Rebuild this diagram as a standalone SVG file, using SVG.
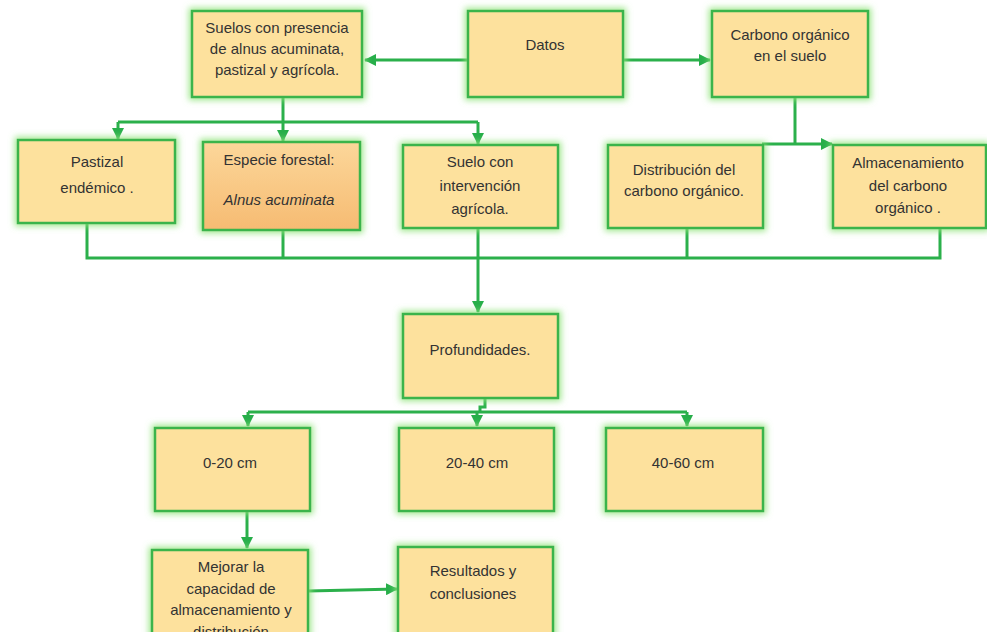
<svg xmlns="http://www.w3.org/2000/svg" width="987" height="632" viewBox="0 0 987 632">
<defs>
<filter id="glow" x="-20%" y="-20%" width="140%" height="140%">
<feMorphology in="SourceAlpha" operator="dilate" radius="2" result="d"/>
<feGaussianBlur in="d" stdDeviation="3" result="b"/>
<feFlood flood-color="#8fe47a" flood-opacity="0.85"/>
<feComposite in2="b" operator="in" result="g"/>
<feMerge><feMergeNode in="g"/><feMergeNode in="SourceGraphic"/></feMerge>
</filter>
<linearGradient id="orange" x1="0" y1="0" x2="0" y2="1">
<stop offset="0" stop-color="#fcd79a"/>
<stop offset="1" stop-color="#f6bb72"/>
</linearGradient>
<marker id="arr" markerUnits="userSpaceOnUse" markerWidth="12" markerHeight="12" viewBox="0 0 12 12" refX="11" refY="6" orient="auto">
<path d="M0,0 L12,6 L0,12 Z" fill="#27ae4a"/>
</marker>
<style>
.box{fill:#fde19d;stroke:#3bb44b;stroke-width:2.5;filter:url(#glow)}
.box2{fill:url(#orange);stroke:#3bb44b;stroke-width:2.5;filter:url(#glow)}
text{font-family:"Liberation Sans",Arial,sans-serif;font-size:15px;fill:#333;text-anchor:middle}
.it{font-style:italic}
.c{fill:none;stroke:#2bb04b;stroke-width:3}
</style>
</defs>
<rect width="987" height="632" fill="#fff"/>

<g id="connectors">
<path class="c" d="M468,60 H365" marker-end="url(#arr)"/>
<path class="c" d="M623,60 H710" marker-end="url(#arr)"/>
<path class="c" d="M283,97 V122"/>
<path class="c" d="M118,122 H478"/>
<path class="c" d="M118,122 V139" marker-end="url(#arr)"/>
<path class="c" d="M283,122 V141" marker-end="url(#arr)"/>
<path class="c" d="M478,122 V144" marker-end="url(#arr)"/>
<path class="c" d="M795,97 V144"/>
<path class="c" d="M762,144 H832" marker-end="url(#arr)"/>
<path class="c" d="M87,223 V258 H940 V228"/>
<path class="c" d="M283,230 V258"/>
<path class="c" d="M687,228 V258"/>
<path class="c" d="M478,228 V312" marker-end="url(#arr)"/>
<path class="c" d="M485,398 V407 H480 V412"/>
<path class="c" d="M248,412 H687"/>
<path class="c" d="M248,412 V426" marker-end="url(#arr)"/>
<path class="c" d="M477,412 V426" marker-end="url(#arr)"/>
<path class="c" d="M687,412 V426" marker-end="url(#arr)"/>
<path class="c" d="M247,511 V548" marker-end="url(#arr)"/>
<path class="c" d="M308,591 L397,589" marker-end="url(#arr)"/>
</g>

<g id="suelos"><rect class="box" x="192" y="11" width="170" height="86"/>
<text x="277" y="33">Suelos con presencia</text><text x="277" y="54">de alnus acuminata,</text><text x="277" y="75">pastizal y agrícola.</text></g>
<g id="datos"><rect class="box" x="468" y="11" width="155" height="86"/>
<text x="545" y="50">Datos</text></g>
<g id="carbono"><rect class="box" x="712" y="11" width="156" height="86"/>
<text x="790" y="40">Carbono orgánico</text><text x="790" y="61">en el suelo</text></g>

<g id="pastizal"><rect class="box" x="18" y="140" width="157" height="83"/>
<text x="97" y="167">Pastizal</text><text x="97" y="193">endémico .</text></g>
<g id="especie"><rect class="box2" x="203" y="142" width="157" height="88"/>
<text x="279" y="165">Especie forestal:</text><text class="it" x="279" y="205">Alnus acuminata</text></g>
<g id="suelo-agricola"><rect class="box" x="403" y="145" width="155" height="83"/>
<text x="480" y="167">Suelo con</text><text x="480" y="191">intervención</text><text x="480" y="214">agrícola.</text></g>
<g id="distribucion"><rect class="box" x="608" y="145" width="155" height="83"/>
<text x="684" y="175">Distribución del</text><text x="684" y="196">carbono orgánico.</text></g>
<g id="almacenamiento"><rect class="box" x="833" y="145" width="153" height="83"/>
<text x="908" y="168">Almacenamiento</text><text x="908" y="191">del carbono</text><text x="908" y="213">orgánico .</text></g>

<g id="profundidades"><rect class="box" x="403" y="314" width="155" height="84"/>
<text x="480" y="355">Profundidades.</text></g>

<g id="p0-20"><rect class="box" x="155" y="428" width="155" height="83"/>
<text x="230" y="468">0-20 cm</text></g>
<g id="p20-40"><rect class="box" x="399" y="428" width="155" height="83"/>
<text x="477" y="468">20-40 cm</text></g>
<g id="p40-60"><rect class="box" x="606" y="428" width="157" height="83"/>
<text x="683" y="468">40-60 cm</text></g>

<g id="mejorar"><rect class="box" x="152" y="550" width="156" height="100"/>
<text x="231" y="572">Mejorar la</text><text x="231" y="594">capacidad de</text><text x="231" y="615">almacenamiento y</text><text x="231" y="637">distribución</text></g>
<g id="resultados"><rect class="box" x="398" y="547" width="155" height="100"/>
<text x="473" y="576">Resultados y</text><text x="473" y="599">conclusiones</text></g>
</svg>
